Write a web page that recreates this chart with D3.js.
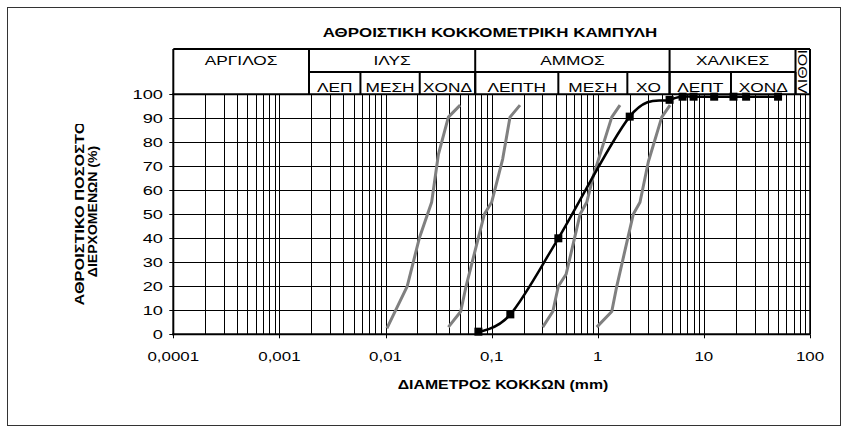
<!DOCTYPE html>
<html>
<head>
<meta charset="utf-8">
<script src="https://cdn.jsdelivr.net/npm/d3@7"></script>
<style>
    body { margin: 0; background: #fff; }
    text { font-family: "Liberation Sans", Arial, sans-serif; fill: #000; }
</style>
</head>
<body>
<svg id="chart" width="849" height="434"></svg>
<script>
// axis ticks
var x_ticks = [0.0001, 0.001, 0.01, 0.1, 1, 10, 100];
var x_tick_labels = ['0,0001', '0,001', '0,01', '0,1', '1', '10', '100'];
var y_ticks = [0, 10, 20, 30, 40, 50, 60, 70, 80, 90, 100];

// sample curve (diameter mm, % passing)
var sample_d = [0.075, 0.15, 0.425, 2, 4.75, 6.3, 8, 12.5, 19, 25, 50];
var sample_pass = [1.1, 8.3, 40, 90.7, 97.7, 99, 99, 99, 99, 99, 99];

// grey reference curves
var ref_1 = [[0.0103, 2.5], [0.016, 20], [0.0208, 40], [0.0272, 55], [0.0315, 75], [0.0391, 90.5], [0.0505, 95.5]];
var ref_2 = [[0.0391, 3], [0.0511, 9.5], [0.0574, 20], [0.0853, 50], [0.1, 55], [0.127, 73], [0.149, 90.5], [0.185, 95.5]];
var ref_3 = [[0.303, 3], [0.377, 9.5], [0.425, 20], [0.503, 25], [0.681, 50], [0.787, 55], [0.908, 66], [1.355, 90.5], [1.62, 95.5]];
var ref_4 = [[0.978, 3], [1.355, 9.5], [1.51, 20], [2.16, 50], [2.5, 55], [3.0, 72], [4.01, 90.5], [4.8, 95.5]];

// classification header
var main_names = ['ΑΡΓΙΛΟΣ', 'ΙΛΥΣ', 'ΑΜΜΟΣ', 'ΧΑΛΙΚΕΣ', 'ΛΙΘΟΙ'];
var main_limits = [0.0001, 0.0019, 0.07, 4.75, 73, 100];
var sub_names = ['ΛΕΠ', 'ΜΕΣΗ', 'ΧΟΝΔ', 'ΛΕΠΤΗ', 'ΜΕΣΗ', 'ΧΟ', 'ΛΕΠΤ', 'ΧΟΝΔ'];
var sub_limits = [0.0019, 0.0058, 0.021, 0.07, 0.425, 1.9, 4.75, 18, 73];

var svg = d3.select('#chart');

var x = d3.scaleLog().domain([0.0001, 100]).range([173.3, 810]);
var y = d3.scaleLinear().domain([0, 100]).range([334.3, 94.3]);

function px(v) { return Math.round(v) + 0.5; }

// the sheet renders its text wide, stretch glyphs by k
function stretch(sel, k) {
    sel.each(function() {
        var w = this.getComputedTextLength();
        d3.select(this)
            .attr('textLength', w * k)
            .attr('lengthAdjust', 'spacingAndGlyphs');
    });
}

// outer frame
svg.append('rect')
    .attr('x', 7.5).attr('y', 7.5)
    .attr('width', 833).attr('height', 418)
    .attr('fill', 'none')
    .attr('stroke', '#333')
    .attr('stroke-width', 1);

// title
svg.append('text')
    .attr('x', 490).attr('y', 37)
    .attr('text-anchor', 'middle')
    .attr('font-size', 13)
    .attr('font-weight', 'bold')
    .text('ΑΘΡΟΙΣΤΙΚΗ ΚΟΚΚΟΜΕΤΡΙΚΗ ΚΑΜΠΥΛΗ')
    .call(stretch, 1.3);

var grid_g = svg.append('g');

// vertical log grid: 1..9 in each decade
var minor = [];
for (var e = -4; e < 2; e++) {
    for (var m = 1; m < 10; m++) {
        minor.push(m * Math.pow(10, e));
    }
}
minor.push(100);

grid_g.selectAll('.vgrid')
    .data(minor)
    .enter()
    .append('line')
    .attr('class', 'vgrid')
    .attr('x1', function(d) { return px(x(d)); })
    .attr('x2', function(d) { return px(x(d)); })
    .attr('y1', y(100))
    .attr('y2', y(0))
    .attr('stroke', '#000')
    .attr('stroke-width', 1);

grid_g.selectAll('.hgrid')
    .data(y_ticks)
    .enter()
    .append('line')
    .attr('class', 'hgrid')
    .attr('x1', x(0.0001) - 4)
    .attr('x2', x(100))
    .attr('y1', function(d) { return px(y(d)); })
    .attr('y2', function(d) { return px(y(d)); })
    .attr('stroke', '#000')
    .attr('stroke-width', 1);

// x major ticks below the axis
grid_g.selectAll('.xtick')
    .data(x_ticks)
    .enter()
    .append('line')
    .attr('x1', function(d) { return px(x(d)); })
    .attr('x2', function(d) { return px(x(d)); })
    .attr('y1', y(0))
    .attr('y2', y(0) + 4)
    .attr('stroke', '#000');

// axes lines
svg.append('line')
    .attr('x1', x(0.0001)).attr('x2', x(0.0001))
    .attr('y1', y(100)).attr('y2', y(0) + 1)
    .attr('stroke', '#000').attr('stroke-width', 2);
svg.append('line')
    .attr('x1', x(0.0001) - 1).attr('x2', x(100))
    .attr('y1', y(0)).attr('y2', y(0))
    .attr('stroke', '#000').attr('stroke-width', 2);
svg.append('line')
    .attr('x1', x(100)).attr('x2', x(100))
    .attr('y1', y(100)).attr('y2', y(0))
    .attr('stroke', '#000').attr('stroke-width', 1.5);

// tick labels
svg.selectAll('.xlabel')
    .data(x_ticks)
    .enter()
    .append('text')
    .attr('class', 'xlabel')
    .attr('x', function(d) { return x(d); })
    .attr('y', 361)
    .attr('text-anchor', 'middle')
    .attr('font-size', 13)
    .text(function(d, i) { return x_tick_labels[i]; })
    .call(stretch, 1.3);

svg.selectAll('.ylabel')
    .data(y_ticks)
    .enter()
    .append('text')
    .attr('class', 'ylabel')
    .attr('x', 163)
    .attr('y', function(d) { return y(d) + 5; })
    .attr('text-anchor', 'end')
    .attr('font-size', 13)
    .text(function(d) { return d; })
    .call(stretch, 1.4);

// axis titles
svg.append('text')
    .attr('x', 503).attr('y', 389)
    .attr('text-anchor', 'middle')
    .attr('font-size', 12)
    .attr('font-weight', 'bold')
    .text('ΔΙΑΜΕΤΡΟΣ ΚΟΚΚΩΝ (mm)')
    .call(stretch, 1.32);

svg.append('clipPath')
    .attr('id', 'ytitle_clip')
    .append('rect')
    .attr('x', 60).attr('y', 124)
    .attr('width', 50).attr('height', 200);

var ytitle = svg.append('g').attr('clip-path', 'url(#ytitle_clip)');
ytitle.append('text')
    .attr('transform', 'translate(83.5,213.5) rotate(-90)')
    .attr('text-anchor', 'middle')
    .attr('font-size', 12)
    .attr('font-weight', 'bold')
    .text('ΑΘΡΟΙΣΤΙΚΟ ΠΟΣΟΣΤΟ')
    .call(stretch, 1.36);
ytitle.append('text')
    .attr('transform', 'translate(96.5,211.5) rotate(-90)')
    .attr('text-anchor', 'middle')
    .attr('font-size', 12)
    .attr('font-weight', 'bold')
    .text('ΔΙΕΡΧΟΜΕΝΩΝ (%)')
    .call(stretch, 1.17);

// header table
var head_top = 49, head_mid = 72, head_bot = y(100);
var head_g = svg.append('g');

head_g.append('line')
    .attr('x1', x(0.0001)).attr('x2', x(100))
    .attr('y1', head_top).attr('y2', head_top)
    .attr('stroke', '#000').attr('stroke-width', 2);
head_g.append('line')
    .attr('x1', x(0.0001) - 1).attr('x2', x(100) + 1)
    .attr('y1', head_bot).attr('y2', head_bot)
    .attr('stroke', '#000').attr('stroke-width', 2);
head_g.append('line')
    .attr('x1', x(main_limits[1])).attr('x2', x(main_limits[4]))
    .attr('y1', head_mid).attr('y2', head_mid)
    .attr('stroke', '#000').attr('stroke-width', 2);

head_g.selectAll('.main_sep')
    .data(main_limits)
    .enter()
    .append('line')
    .attr('x1', function(d) { return x(d); })
    .attr('x2', function(d) { return x(d); })
    .attr('y1', head_top)
    .attr('y2', head_bot)
    .attr('stroke', '#000')
    .attr('stroke-width', 2);

head_g.selectAll('.sub_sep')
    .data(sub_limits)
    .enter()
    .append('line')
    .attr('x1', function(d) { return x(d); })
    .attr('x2', function(d) { return x(d); })
    .attr('y1', head_mid)
    .attr('y2', head_bot)
    .attr('stroke', '#000')
    .attr('stroke-width', 2);

// clip each header cell so long labels are cut like in the sheet
main_names.forEach(function(name, i) {
    var x0 = x(main_limits[i]), x1 = x(main_limits[i + 1]);
    var id = 'main_clip' + i;
    svg.append('clipPath').attr('id', id)
        .append('rect')
        .attr('x', x0 + 1).attr('y', head_top + 1)
        .attr('width', x1 - x0 - 2).attr('height', head_bot - head_top - 2);
    var cell = head_g.append('g').attr('clip-path', 'url(#' + id + ')');
    var t = cell.append('text')
        .attr('font-size', 13)
        .attr('text-anchor', 'middle')
        .text(name);
    if (i == main_names.length - 1) {
        //last column is narrow, text runs upward
        t.attr('font-size', 12)
            .attr('transform', 'translate(' + ((x0 + x1) / 2 + 4.5) + ',' + ((head_top + head_bot) / 2) + ') rotate(-90)');
    } else {
        t.attr('x', (x0 + x1) / 2).attr('y', 65);
    }
    t.call(stretch, 1.33);
});

sub_names.forEach(function(name, i) {
    var x0 = x(sub_limits[i]), x1 = x(sub_limits[i + 1]);
    var id = 'sub_clip' + i;
    svg.append('clipPath').attr('id', id)
        .append('rect')
        .attr('x', x0 + 1).attr('y', head_mid + 1)
        .attr('width', x1 - x0 - 2).attr('height', head_bot - head_mid - 2);
    head_g.append('g')
        .attr('clip-path', 'url(#' + id + ')')
        .append('text')
        .attr('x', (x0 + x1) / 2)
        .attr('y', 91.5)
        .attr('font-size', 13)
        .attr('text-anchor', 'middle')
        .text(name)
        .call(stretch, 1.33);
});

// grey reference curves
var ref_line = d3.line()
    .x(function(d) { return x(d[0]); })
    .y(function(d) { return y(d[1]); });

svg.selectAll('.ref')
    .data([ref_1, ref_2, ref_3, ref_4])
    .enter()
    .append('path')
    .attr('class', 'ref')
    .attr('d', ref_line)
    .attr('fill', 'none')
    .attr('stroke', '#808080')
    .attr('stroke-width', 3)
    .attr('stroke-linejoin', 'round');

// sample curve, smoothed like the spreadsheet line
var sample = sample_d.map(function(d, i) { return [d, sample_pass[i]]; });
var sample_line = d3.line()
    .x(function(d) { return x(d[0]); })
    .y(function(d) { return y(d[1]); })
    .curve(d3.curveCatmullRom.alpha(0));

svg.append('path')
    .attr('d', sample_line(sample))
    .attr('fill', 'none')
    .attr('stroke', '#000')
    .attr('stroke-width', 2.5);

svg.selectAll('.marker')
    .data(sample)
    .enter()
    .append('rect')
    .attr('class', 'marker')
    .attr('x', function(d) { return x(d[0]) - 4; })
    .attr('y', function(d) { return y(d[1]) - 4; })
    .attr('width', 8)
    .attr('height', 8)
    .attr('fill', '#000');
</script>
</body>
</html>
